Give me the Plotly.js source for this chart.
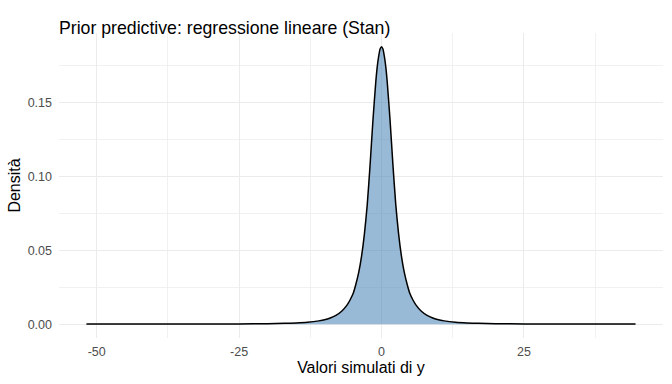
<!DOCTYPE html>
<html>
<head>
<meta charset="utf-8">
<script src="https://cdn.plot.ly/plotly-3.0.1.min.js"></script>
<style>html,body{margin:0;padding:0;background:#fff;}#chart{width:672px;height:384px;}</style>
</head>
<body>
<div id="chart"></div>
<script>
// Simulated y values (x positions of the density curve) and density
const yValues = [-51.8, -45, -40, -35, -30, -25, -20, -17, -15, -13, -11, -10, -9, -8, -7, -6, -5.5, -5, -4.5, -4, -3.5, -3, -2.5, -2, -1.5, -1, -0.75, -0.5, -0.25, 0,
                 0.25, 0.5, 0.75, 1, 1.5, 2, 2.5, 3, 3.5, 4, 4.5, 5, 5.5, 6, 7, 8, 9, 10, 11, 13, 15, 17, 20, 25, 30, 35, 40, 44.6];
const density = [0.00001, 0.00002, 0.00003, 0.00005, 0.00008, 0.00014, 0.0003, 0.00052, 0.0008, 0.0013, 0.0022, 0.0029, 0.0041, 0.0059, 0.0087, 0.0132, 0.0165, 0.0205, 0.027, 0.035, 0.046, 0.061, 0.081, 0.108, 0.138, 0.164, 0.174, 0.181, 0.186, 0.1875,
                 0.186, 0.181, 0.174, 0.164, 0.138, 0.108, 0.081, 0.061, 0.046, 0.035, 0.027, 0.0205, 0.0165, 0.0132, 0.0087, 0.0059, 0.0041, 0.0029, 0.0022, 0.0013, 0.0008, 0.00052, 0.0003, 0.00014, 0.00008, 0.00005, 0.00003, 0.00001];
const xTicks = [-50, -25, 0, 25];
const xTickLabels = ["-50", "-25", "0", "25"];
const yTicks = [0, 0.05, 0.10, 0.15];
const yTickLabels = ["0.00", "0.05", "0.10", "0.15"];

const font = "Liberation Sans, Arial, Helvetica, sans-serif";
const xmin = Math.min(...yValues), xmax = Math.max(...yValues);
const ymax = Math.max(...density);
const xpad = (xmax - xmin) * 0.05, ypad = ymax * 0.05;

const traces = [{
  x: yValues, y: density, type: "scatter", mode: "lines",
  line: {color: "#000000", width: 1.5, shape: "spline", smoothing: 0.6},
  fill: "tozeroy", fillcolor: "rgba(70,130,180,0.55)",
  hoverinfo: "skip"
}];

const layout = {
  width: 672, height: 384,
  margin: {l: 59, r: 9, t: 33, b: 46},
  paper_bgcolor: "#ffffff", plot_bgcolor: "#ffffff",
  showlegend: false,
  title: {text: "Prior predictive: regressione lineare (Stan)", x: 59/672, xanchor: "left", xref: "container",
          y: 1 - 22/384, yanchor: "alphabetic", yref: "container", font: {family: font, size: 17.7, color: "#000000"}},
  xaxis: {
    range: [xmin - xpad, xmax + xpad], tickmode: "array", tickvals: xTicks, ticktext: xTickLabels,
    showgrid: true, gridcolor: "#EBEBEB", gridwidth: 1.1, zeroline: false, showline: false, ticks: "",
    ticklabelstandoff: 4,
    minor: {tickmode: "array", tickvals: [-37.5, -12.5, 12.5, 37.5], showgrid: true, gridcolor: "#EBEBEB", gridwidth: 0.7, ticks: ""},
    tickfont: {family: font, size: 12.5, color: "#4D4D4D"},
    title: {text: "Valori simulati di y", font: {family: font, size: 16, color: "#000000"}, standoff: 4}
  },
  yaxis: {
    range: [-ypad, ymax + ypad], tickmode: "array", tickvals: yTicks, ticktext: yTickLabels,
    showgrid: true, gridcolor: "#EBEBEB", gridwidth: 1.1, zeroline: false, showline: false, ticks: "",
    ticklabelstandoff: 6,
    minor: {tickmode: "array", tickvals: [0.025, 0.075, 0.125, 0.175], showgrid: true, gridcolor: "#EBEBEB", gridwidth: 0.7, ticks: ""},
    tickfont: {family: font, size: 12.5, color: "#4D4D4D"},
    title: {text: "Densità", font: {family: font, size: 16, color: "#000000"}, standoff: 3}
  }
};

Plotly.newPlot("chart", traces, layout, {staticPlot: true, displayModeBar: false});
</script>
</body>
</html>
